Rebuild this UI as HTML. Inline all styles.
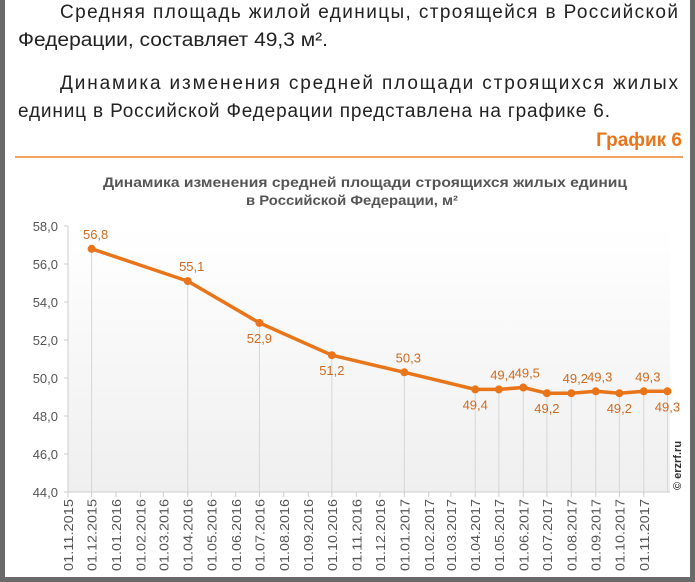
<!DOCTYPE html>
<html><head><meta charset="utf-8"><style>
html,body{margin:0;padding:0;}
body{width:695px;height:582px;background:#6a6a6a;position:relative;overflow:hidden;font-family:"Liberation Sans",sans-serif;}
#page{position:absolute;left:5px;top:0;width:685px;height:577px;background:#fff;}
</style></head><body>
<div id="page"></div>
<svg width="695" height="582" style="position:absolute;left:0;top:0" font-family="Liberation Sans, sans-serif">
<defs><linearGradient id="g" x1="0" y1="0" x2="0" y2="1"><stop offset="0" stop-color="#ffffff"/><stop offset="1" stop-color="#efefef"/></linearGradient></defs>
<g font-size="19" fill="#222">
<text x="60" y="18" textLength="618" lengthAdjust="spacing">Средняя площадь жилой единицы, строящейся в Российской</text>
<text x="18" y="46" textLength="310" lengthAdjust="spacingAndGlyphs">Федерации, составляет 49,3 м².</text>
<text x="60" y="89" textLength="618" lengthAdjust="spacing">Динамика изменения средней площади строящихся жилых</text>
<text x="18" y="117" textLength="592" lengthAdjust="spacing">единиц в Российской Федерации представлена на графике 6.</text>
</g>
<text x="682" y="146" text-anchor="end" font-size="19" font-weight="bold" fill="#e8751a">График 6</text>
<rect x="15" y="156" width="668" height="2" fill="#efa35f"/>
<g font-size="14" font-weight="bold" fill="#555">
<text x="103" y="187" textLength="524" lengthAdjust="spacingAndGlyphs">Динамика изменения средней площади строящихся жилых единиц</text>
<text x="246" y="205" textLength="212" lengthAdjust="spacingAndGlyphs">в Российской Федерации, м²</text>
</g>
<rect x="68" y="226" width="602" height="266" fill="url(#g)"/>
<g font-size="13" fill="#555" text-anchor="end">
<text x="58" y="231">58,0</text><text x="58" y="269">56,0</text><text x="58" y="307">54,0</text><text x="58" y="345">52,0</text><text x="58" y="383">50,0</text><text x="58" y="421">48,0</text><text x="58" y="459">46,0</text><text x="58" y="497">44,0</text>
</g>
<g stroke="#ccc" stroke-width="1">
<line x1="68" y1="226" x2="68" y2="492"/><line x1="64" y1="226" x2="68" y2="226"/><line x1="64" y1="264" x2="68" y2="264"/><line x1="64" y1="302" x2="68" y2="302"/><line x1="64" y1="340" x2="68" y2="340"/><line x1="64" y1="378" x2="68" y2="378"/><line x1="64" y1="416" x2="68" y2="416"/><line x1="64" y1="454" x2="68" y2="454"/>
<line x1="64" y1="492" x2="670" y2="492"/>
</g>
<g id="ticks" stroke="#ccc"></g>
<g id="xl" font-size="13" fill="#555"></g>
<g id="drops" stroke="#d6d6d6"></g>
<polyline id="ln" fill="none" stroke="#e8751a" stroke-width="3.5" stroke-linejoin="round"/>
<g id="dots" fill="#e8751a"></g>
<g id="lbl" font-size="13" fill="#d06a20" text-anchor="middle"></g>
<text transform="translate(681,490) rotate(-90)" font-size="11" font-weight="bold" fill="#333">© erzrf.ru</text>
</svg>
<script>
var ns="http://www.w3.org/2000/svg";
function el(p,t,a,txt){var e=document.createElementNS(ns,t);for(var k in a)e.setAttribute(k,a[k]);if(txt)e.textContent=txt;document.getElementById(p).appendChild(e);}
var labels=["01.11.2015","01.12.2015","01.01.2016","01.02.2016","01.03.2016","01.04.2016","01.05.2016","01.06.2016","01.07.2016","01.08.2016","01.09.2016","01.10.2016","01.11.2016","01.12.2016","01.01.2017","01.02.2017","01.03.2017","01.04.2017","01.05.2017","01.06.2017","01.07.2017","01.08.2017","01.09.2017","01.10.2017","01.11.2017"];
var days=[30,31,31,29,31,30,31,30,31,31,30,31,30,31,31,28,31,30,31,30,31,31,30,31,30];
var xs=[],d=0,s=575/730;
for(var i=0;i<25;i++){xs.push(68+d*s);d+=days[i];}
var xDec17=68+d*s;
xs.forEach(function(x,i){el("ticks","line",{x1:x,y1:492,x2:x,y2:497});
el("xl","text",{transform:"translate("+(x+5)+",571) rotate(-90)",textLength:"72",lengthAdjust:"spacingAndGlyphs"},labels[i]);});
function Y(v){return 492-(v-44)*19;}
var pts=[[1,56.8,"a"],[5,55.1,"a"],[8,52.9,"b"],[11,51.2,"b"],[14,50.3,"a"],[17,49.4,"b"],[18,49.4,"a"],[19,49.5,"a"],[20,49.2,"b"],[21,49.2,"a"],[22,49.3,"a"],[23,49.2,"b"],[24,49.3,"a"],[25,49.3,"b"]];
var str="";
pts.forEach(function(p){var x=p[0]<25?xs[p[0]]:xDec17,y=Y(p[1]);str+=x+","+y+" ";
el("drops","line",{x1:x,y1:y,x2:x,y2:492});
el("dots","circle",{cx:x,cy:y,r:4});
var t=p[1].toFixed(1).replace(".",",");
if(p[2]=="a")el("lbl","text",{x:x+4,y:y-10},t);else el("lbl","text",{x:x,y:y+20},t);});
document.getElementById("ln").setAttribute("points",str);
</script>
</body></html>
